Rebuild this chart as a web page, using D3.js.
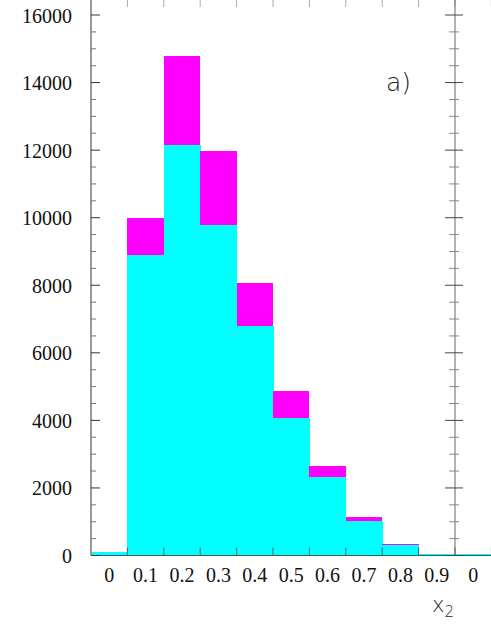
<!DOCTYPE html>
<html lang="en">
<head>
    <meta charset="UTF-8">
    <title>x2 histogram</title>
    <script src="https://cdnjs.cloudflare.com/ajax/libs/d3/7.8.5/d3.min.js"></script>
    <style>
        body { margin: 0; background: #fff; }
        svg { display: block; }
        .num { font-family: "Liberation Serif", "DejaVu Serif", "Times New Roman", serif; font-size: 20px; fill: #111; }
        .title { font-family: "DejaVu Sans", sans-serif; font-weight: 300; fill: #222; }
    </style>
</head>
<body>
    <svg id="chart" width="491" height="635"></svg>

    <script>
        // bins of x2 (lower edges), panel a)
        const binStarts = [0, 0.1, 0.2, 0.3, 0.4, 0.5, 0.6, 0.7, 0.8, 0.9];
        // cyan part and magenta part stacked on top of it
        const cyanVals = [100, 8900, 12150, 9770, 6800, 4060, 2310, 1010, 300, 40];
        const magentaVals = [0, 1100, 2650, 2190, 1280, 800, 330, 120, 50, 0];

        // next panel, only its first bins show at the right edge
        const nextBinStarts = [1.0, 1.1];
        const nextCyanVals = [40, 2320];

        const xTickLabels = ["0", "0.1", "0.2", "0.3", "0.4", "0.5", "0.6", "0.7", "0.8", "0.9", "0"];
        const yTicks = [0, 2000, 4000, 6000, 8000, 10000, 12000, 14000, 16000];

        const svg = d3.select("#chart");
        const binW = 0.1;

        // panel a) spans 0..1, the next panel continues from 1 on
        const x = d3.scaleLinear().domain([0, 1]).range([91, 455]);
        const y = d3.scaleLinear().domain([0, 16000]).range([555.5, 15]);

        const bars = svg.append("g").attr("shape-rendering", "crispEdges");

        // cyan bars
        bars.selectAll("rect.cyan")
            .data(binStarts.map((b, i) => ({ b: b, v: cyanVals[i] })))
            .enter()
            .append("rect")
            .attr("class", "cyan")
            .attr("x", (d) => x(d.b))
            .attr("width", (d) => x(d.b + binW) - x(d.b) + 0.5)
            .attr("y", (d) => y(d.v))
            .attr("height", (d) => y(0) - y(d.v))
            .attr("fill", "#00ffff");

        // magenta on top
        bars.selectAll("rect.mag")
            .data(binStarts.map((b, i) => ({ b: b, lo: cyanVals[i], hi: cyanVals[i] + magentaVals[i] })))
            .enter()
            .append("rect")
            .attr("class", "mag")
            .attr("x", (d) => x(d.b))
            .attr("width", (d) => x(d.b + binW) - x(d.b))
            .attr("y", (d) => y(d.hi))
            .attr("height", (d) => y(d.lo) - y(d.hi))
            .attr("fill", "#ff00ff");

        bars.selectAll("rect.next")
            .data(nextBinStarts.map((b, i) => ({ b: b, v: nextCyanVals[i] })))
            .enter()
            .append("rect")
            .attr("class", "next")
            .attr("x", (d) => x(d.b))
            .attr("width", (d) => x(d.b + binW) - x(d.b))
            .attr("y", (d) => y(d.v))
            .attr("height", (d) => y(0) - y(d.v))
            .attr("fill", "#00ffff");

        // bin edges for the ticks on top and bottom
        const edges = d3.range(1, 12).map((i) => i * binW);

        // bottom axis line and ticks
        svg.append("line")
            .attr("x1", x(0)).attr("x2", 491)
            .attr("y1", y(0)).attr("y2", y(0))
            .attr("stroke", "#3d5a60").attr("stroke-width", 1.2);

        svg.append("g").selectAll("line")
            .data(edges)
            .enter()
            .append("line")
            .attr("x1", (d) => x(d)).attr("x2", (d) => x(d))
            .attr("y1", y(0)).attr("y2", y(0) - 8)
            .attr("stroke", "#4a6468").attr("stroke-width", 1);

        // top ticks (frame itself is cut off above the picture)
        svg.append("g").selectAll("line")
            .data(edges)
            .enter()
            .append("line")
            .attr("x1", (d) => x(d)).attr("x2", (d) => x(d))
            .attr("y1", 0).attr("y2", 7)
            .attr("stroke", "#aaa").attr("stroke-width", 1);

        // left axis
        const minorTicks = d3.range(0, 16001, 500);

        svg.append("line")
            .attr("x1", x(0)).attr("x2", x(0))
            .attr("y1", 0).attr("y2", y(0))
            .attr("stroke", "#999").attr("stroke-width", 2);

        svg.append("g").selectAll("line")
            .data(minorTicks)
            .enter()
            .append("line")
            .attr("x1", x(0))
            .attr("x2", (d) => x(0) + (d % 2000 === 0 ? 9 : 5))
            .attr("y1", (d) => y(d)).attr("y2", (d) => y(d))
            .attr("stroke", (d) => d % 2000 === 0 ? "#333" : "#777")
            .attr("stroke-width", 1);

        // right axis, ticks on both sides (shared by the two panels)
        svg.append("line")
            .attr("x1", x(1)).attr("x2", x(1))
            .attr("y1", 0).attr("y2", y(0))
            .attr("stroke", "#666").attr("stroke-width", 1);

        svg.append("g").selectAll("line")
            .data(minorTicks)
            .enter()
            .append("line")
            .attr("x1", (d) => x(1) - (d % 2000 === 0 ? 10 : 6))
            .attr("x2", (d) => x(1) + (d % 2000 === 0 ? 8 : 4))
            .attr("y1", (d) => y(d)).attr("y2", (d) => y(d))
            .attr("stroke", (d) => d % 2000 === 0 ? "#444" : "#888")
            .attr("stroke-width", 1);

        // y labels
        svg.append("g").selectAll("text")
            .data(yTicks)
            .enter()
            .append("text")
            .attr("class", "num")
            .attr("x", 72)
            .attr("y", (d) => y(d) + 7.5)
            .attr("text-anchor", "end")
            .text((d) => d);

        // x labels, centred in each bin
        svg.append("g").selectAll("text")
            .data(xTickLabels)
            .enter()
            .append("text")
            .attr("class", "num")
            .attr("x", (d, i) => x(i * binW + binW / 2))
            .attr("y", 582)
            .attr("text-anchor", "middle")
            .text((d) => d);

        // axis title x2
        const xt = svg.append("text")
            .attr("class", "title")
            .attr("x", 432)
            .attr("y", 612)
            .attr("font-size", 21);
        xt.append("tspan").text("x");
        xt.append("tspan").attr("dy", 5).attr("font-size", 15).text("2");

        // panel label
        svg.append("text")
            .attr("class", "title")
            .attr("x", 386)
            .attr("y", 91)
            .attr("font-size", 25)
            .text("a)");
    </script>
</body>
</html>
